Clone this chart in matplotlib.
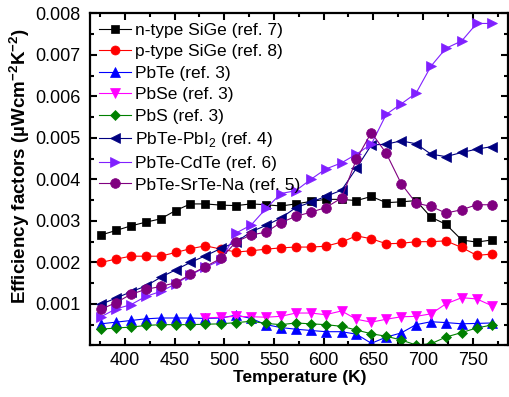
import numpy as np
import matplotlib
matplotlib.use('Agg')
import matplotlib.pyplot as plt
from matplotlib.ticker import MultipleLocator

plt.rcParams['font.family'] = ['Liberation Sans', 'DejaVu Sans']
plt.rcParams['mathtext.fontset'] = 'custom'
plt.rcParams['mathtext.rm'] = 'Liberation Sans'
plt.rcParams['mathtext.bf'] = 'Liberation Sans:bold'

# temperatures (K)
temps = [376, 391, 406, 421, 436, 451, 466, 481, 497, 512, 527, 542, 557, 572,
         587, 602, 618, 633, 648, 663, 678, 693, 708, 723, 739, 754, 769]

# efficiency factors, in units of 1e-3 uWcm^-2K^-2
n_sige = [2.66, 2.77, 2.88, 2.97, 3.05, 3.25, 3.41, 3.41, 3.38, 3.37, 3.41, 3.39, 3.36, 3.41,
          3.47, 3.52, 3.52, 3.49, 3.59, 3.44, 3.46, 3.49, 3.09, 2.92, 2.54, 2.49, 2.54]
p_sige = [2.00, 2.08, 2.15, 2.15, 2.15, 2.24, 2.33, 2.40, 2.32, 2.25, 2.28, 2.32, 2.35, 2.37,
          2.37, 2.39, 2.49, 2.64, 2.57, 2.45, 2.46, 2.50, 2.50, 2.52, 2.36, 2.17, 2.20]
pbte = [0.52, 0.56, 0.60, 0.64, 0.66, 0.66, 0.66, 0.65, 0.66, 0.73, 0.65, 0.50, 0.43, 0.39,
        0.36, 0.33, 0.33, 0.27, 0.05, 0.20, 0.30, 0.50, 0.57, 0.55, 0.52, 0.53, 0.54]
pbse = [None, None, None, None, None, None, None, 0.66, 0.68, 0.70, 0.69, 0.68, 0.70, 0.78,
        0.78, 0.74, 0.83, 0.63, 0.56, 0.63, 0.69, 0.70, 0.76, 1.00, 1.15, 1.12, 0.96]
pbs = [0.39, 0.42, 0.44, 0.48, 0.50, 0.50, 0.50, 0.51, 0.52, 0.55, 0.58, 0.53, 0.50, 0.54,
       0.52, 0.50, 0.46, 0.37, 0.28, 0.22, 0.13, 0.01, 0.04, 0.20, 0.31, 0.42, 0.49]
pbte_pbi2 = [0.99, 1.14, 1.29, 1.43, 1.64, 1.82, 2.00, 2.16, 2.34, 2.49, 2.74, 2.89, 3.07, 3.32,
             3.45, 3.59, 3.74, 4.27, 4.83, 4.85, 4.93, 4.86, 4.61, 4.55, 4.65, 4.73, 4.79]
pbte_cdte = [0.69, 0.88, 0.98, 1.18, 1.30, 1.48, 1.70, 1.88, 2.06, 2.71, 2.90, 3.30, 3.66, 3.73,
             4.00, 4.25, 4.40, 4.61, 4.85, 5.57, 5.82, 6.08, 6.73, 7.16, 7.34, 7.76, 7.76]
pbte_srte = [0.87, 1.03, 1.23, 1.35, 1.42, 1.51, 1.71, 1.90, 2.10, 2.50, 2.66, 2.73, 2.96, 3.11,
             3.21, 3.32, 3.55, 4.49, 5.13, 4.63, 3.90, 3.43, 3.35, 3.19, 3.27, 3.39, 3.39]

labels = ['n-type SiGe (ref. 7)', 'p-type SiGe (ref. 8)', 'PbTe (ref. 3)', 'PbSe (ref. 3)',
          'PbS (ref. 3)', 'PbTe-PbI$_2$ (ref. 4)', 'PbTe-CdTe (ref. 6)', 'PbTe-SrTe-Na (ref. 5)']
series = [n_sige, p_sige, pbte, pbse, pbs, pbte_pbi2, pbte_cdte, pbte_srte]
colors = ['black', '#ff0000', '#0000ff', '#ff00ff', '#008000', '#000080', '#8020ff', '#800080']
markers = ['s', 'o', '^', 'v', 'D', '<', '>', 'o']
sizes = [6, 6.5, 6.5, 6.5, 5.5, 6.5, 6.5, 7]

fig = plt.figure(figsize=(5.09, 3.97), dpi=100)
ax = fig.add_axes([0.177, 0.130, 0.822, 0.836])

for vals, lab, c, m, ms in zip(series, labels, colors, markers, sizes):
    y = np.array([np.nan if v is None else v for v in vals]) * 1e-3
    ax.plot(temps, y, color=c, marker=m, markersize=ms, linewidth=0.8,
            markeredgewidth=0.5, label=lab)

ax.set_xlim(365, 786)
ax.set_ylim(0, 0.008)
ax.set_xticks([400, 450, 500, 550, 600, 650, 700, 750])
ax.xaxis.set_minor_locator(MultipleLocator(25))
ax.set_yticks([0.001, 0.002, 0.003, 0.004, 0.005, 0.006, 0.007, 0.008])
ax.set_yticklabels(['0.001', '0.002', '0.003', '0.004', '0.005', '0.006', '0.007', '0.008'])
ax.yaxis.set_minor_locator(MultipleLocator(0.0005))

ax.tick_params(which='both', direction='in', top=True, right=True, width=1.5)
ax.tick_params(which='major', length=5, labelsize=13)
ax.tick_params(which='minor', length=3)
ax.tick_params(axis='y', pad=7)
ax.tick_params(axis='x', pad=5)
for s in ax.spines.values():
    s.set_linewidth(1.6)

ax.set_xlabel('Temperature (K)', fontsize=12.5, fontweight='bold')
ax.set_ylabel('Efficiency factors (µWcm$^{\\mathbf{-2}}$K$^{\\mathbf{-2}}$)',
              fontsize=13.5, fontweight='bold')
ax.xaxis.set_label_coords(0.5, -0.075)
ax.yaxis.set_label_coords(-0.14, 0.54)

ax.legend(loc='upper left', frameon=False, fontsize=12.5, handlelength=1.85,
          handletextpad=0.2, labelspacing=0.37, borderpad=0.1, borderaxespad=0.42)

fig.savefig('out.png', dpi=100)
